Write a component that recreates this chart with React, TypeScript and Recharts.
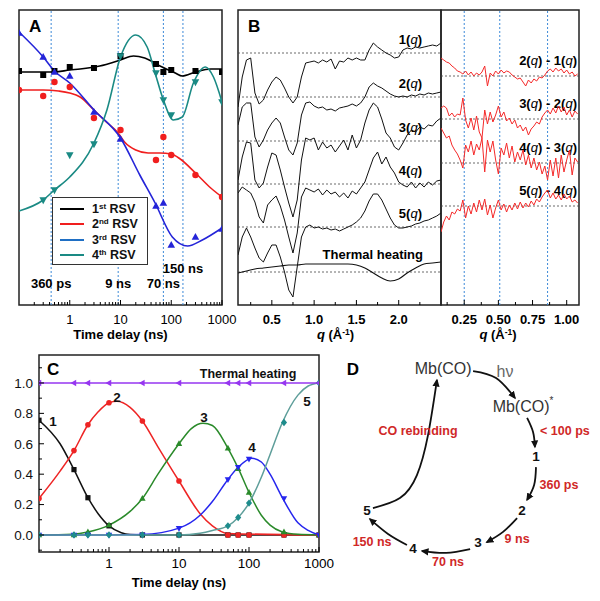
import React from 'react';
import {
  ComposedChart, ScatterChart, Line, Scatter, XAxis, YAxis,
  ReferenceLine, ReferenceArea, Legend,
} from 'recharts';

const FONT = '"Liberation Sans", Arial, Helvetica, sans-serif';

// ---------------- Panel A : right singular vectors vs time delay ----------------
const delaysA = [0.1, 0.3, 0.5, 1, 3, 10, 50, 70, 100, 300, 1000];
const rsv1Marks = [234, 230, 234, 238, 237, 249, 241, 233, 235, 234, 233];
const rsv2Marks = [215, 209, 223, 218, 187, 175, 145, 168, 150, 130, 108];
const rsv3Marks = [272, 248, 233, 229, 193, 166, 99, 102, 60, 68, 76];
const rsv4Marks = [null, 105, 115, 150, 161, 249, 232, 205, 190, 223, 203];

const rsv1FitT = [0.1, 0.5, 1, 1.6, 3.9, 10, 18, 30, 60, 120, 165, 300, 600, 1000];
const rsv1FitV = [233, 233, 235, 236, 239, 245, 249, 247, 239, 232, 229, 233, 236, 236];
const rsv2FitT = [0.1, 0.3, 0.6, 1, 1.6, 3, 5, 9, 12, 20, 35, 60, 100, 150, 300, 600, 1000];
const rsv2FitV = [215, 215, 214, 212, 208, 195, 184, 172, 163, 155, 152, 152, 151, 146, 132, 117, 108];
const rsv3FitT = [0.1, 0.3, 0.5, 1, 3, 10, 24, 48, 105, 210, 410, 1000];
const rsv3FitV = [273, 248, 234, 222, 195, 167, 130, 102, 68, 59, 65, 77];
const rsv4FitT = [0.1, 0.3, 0.5, 1, 3, 5.4, 10, 20, 33.5, 48, 70, 110, 165, 273, 471, 679, 1000];
const rsv4FitV = [94, 105, 115, 128, 162, 195, 248, 270, 258, 232, 205, 185, 188, 222, 238, 228, 203];

const markTimesA = [0.43, 9, 70, 170];
const markLabelsA = ['360 ps', '9 ns', '70 ns', '150 ns'];

const rsvLegend = [
  { num: '1', sup: 'st', color: '#000000' },
  { num: '2', sup: 'nd', color: '#f01e1e' },
  { num: '3', sup: 'rd', color: '#1f6fc4' },
  { num: '4', sup: 'th', color: '#1a8a84' },
];

// ---------------- Panel B : species-associated difference curves ----------------
const qGridB = [0.1, 0.15, 0.2, 0.25, 0.3, 0.35, 0.4, 0.45, 0.5, 0.55, 0.6, 0.65, 0.7, 0.75, 0.8, 0.85, 0.9, 0.95,
  1.0, 1.05, 1.1, 1.15, 1.2, 1.25, 1.3, 1.35, 1.4, 1.45, 1.5, 1.55, 1.6,
  1.65, 1.7, 1.75, 1.8, 1.85, 1.9, 1.95, 2.0, 2.05, 2.1, 2.15, 2.2, 2.25, 2.3, 2.35, 2.4, 2.45, 2.5];
const sig1 = [-54, -24, -7, -5, -40, -51, -47, -37, -29, -24, -27, -35, -44, -50, -44, -24, -10, -9,
  -8, -10, -7, -9, -6, -16, -8, -9, -5, -7, -5, -7, -7,
  3, 10, 6, 3, 0, -2, -5, -4, 3, 5, 4, 6, 5, 6, 7, 8, 7, 10];
const sig2 = [-28, -10, -6, -6, -40, -50, -43, -33, -26, -21, -26, -40, -53, -58, -46, -18, -6, -5,
  -9, -11, -10, -13, -12, -14, -11, -10, -9, -7, -9, -6, 0,
  10, 14, 11, 9, 6, 3, 1, 0, 1, 0, 2, 1, 3, 2, 4, 3, 4, 5];
const sig3 = [-39, -16, -1, -2, -39, -47, -42, -26, -12, -14, -29, -46, -62, -76, -59, -19, 3, 1,
  3, -9, -1, -7, -4, -11, -5, 1, -9, 6, -7, 1, 18,
  31, 38, 34, 22, 8, 3, -6, -9, -2, 6, 11, 9, 14, 12, 16, 15, 20, 23];
const sig4 = [-9, -3, -6, -9, -18, -33, -39, -21, -16, -12, -22, -36, -53, -69, -49, -13, -4, -6,
  -8, -5, -11, -6, -10, -8, -13, -9, -14, -7, -10, -4, 2,
  14, 26, 32, 20, 27, 17, 11, 2, -1, -3, 2, -4, 1, -3, 2, -1, 3, 4];
const sig5 = [-28, -10, -1, -10, -21, -31, -35, -26, -18, -18, -30, -45, -63, -70, -40, -10, 0, 2,
  -1, 0, -2, -1, -3, -2, -4, -2, 0, 2, 5, 9, 16,
  26, 33, 33, 27, 18, 9, 2, -1, -1, 0, 1, 3, 4, 6, 7, 9, 11, 14];
const qThermal = [0.1, 0.2, 0.3, 0.4, 0.5, 0.6, 0.7, 0.8, 0.9, 1.0, 1.1, 1.2, 1.3, 1.4, 1.5, 1.6, 1.7, 1.8, 1.9, 2.0, 2.1, 2.2, 2.3, 2.4, 2.5];
const sigThermal = [-1, 1, 3, 4, 5, 6, 7, 7, 8, 8, 8, 8, 8, 8, 7, 4, -1, -6, -9, -7, -1, 4, 8, 9, 10];
const offsetsB = [252, 208, 164, 121, 78, 33];
const speciesB = ['1', '2', '3', '4', '5'];

const qGridR = [0.08, 0.1, 0.12, 0.14, 0.16, 0.18, 0.2, 0.22, 0.24, 0.26, 0.28, 0.3, 0.32, 0.34, 0.36, 0.38, 0.4,
  0.42, 0.44, 0.46, 0.48, 0.5, 0.52, 0.54, 0.56, 0.58, 0.6, 0.62, 0.64, 0.66, 0.68, 0.7, 0.72, 0.74, 0.76,
  0.78, 0.8, 0.82, 0.84, 0.86, 0.88, 0.9, 0.92, 0.94, 0.96, 0.98, 1.0, 1.02, 1.04, 1.06, 1.08];
const diff21 = [18, 16, 14, 13, 10, 8, 5, 4, 2, 5, 1, 4, 0, 3, 1, 4, 10, -10, 3, 0, 5, 2, 6, 3, 5, 4, 1, -1, -3, -2,
  -6, -10, -4, -7, -3, -5, -1, -2, 1, 5, 7, 4, 8, 5, 7, 3, 6, 2, 4, 0, 2];
const diff32 = [11, 13, 11, 3, 6, 2, 5, 4, 21, -1, -9, 1, -11, 3, -13, -19, 9, -5, 7, -3, 4, 13, 2, 7, -2, 1, -5, -1,
  -9, -6, -12, -8, -16, -10, -7, -3, -5, 2, 6, 9, 5, 11, 6, 13, 7, 12, 4, 9, 2, 8, 5];
const diff43 = [35, 30, 25, 27, 18, 13, 9, 3, -5, 18, 11, 22, 8, 19, 13, 25, -9, 23, 11, 22, 3, -11, 15, 8, 20, 5,
  17, 1, 11, 3, 13, -2, 8, -5, 5, -7, 1, -11, -3, -17, 3, -13, 5, -15, 8, -9, 3, 13, -12, 5, 1];
const diff54 = [-26, -16, -10, -14, -6, -8, -3, -5, 6, -12, 0, -8, 3, -6, 6, -4, 7, -9, 1, -12, -2, 6, -4, 2, -6, 1,
  -4, 3, -3, 4, -2, 3, -1, 5, 1, 7, 4, 9, 13, 16, 8, 13, 7, 11, 6, 12, 7, 10, 4, 6, 3];
const offsetsR = [229, 186, 142, 99];
const diffPairs = [['2', '1'], ['3', '2'], ['4', '3'], ['5', '4']];
const vLinesR = [0.25, 0.51, 0.86];

// ---------------- Panel C : populations ----------------
const delaysC = [0.1, 0.316, 0.5, 1, 3, 10, 50, 70, 100, 316, 1000];
const pop1Marks = [0.755, 0.43, 0.245, 0.06, 0, 0, 0, 0, 0, 0, 0];
const pop2Marks = [0.24, 0.555, 0.725, 0.87, 0.75, 0.355, 0, 0, 0, 0, 0];
const pop3Marks = [0, 0, 0.02, 0.065, 0.24, 0.6, 0.57, 0.435, 0.28, 0.02, 0];
const pop4Marks = [0, 0, 0, 0, 0, 0.045, 0.365, 0.445, 0.5, 0.24, 0];
const pop5Marks = [0, 0, 0, 0, 0, 0, 0.06, 0.115, 0.21, 0.74, 1.0];
const heatMarks = [1, 1, 1, 1, 1, 1, 1, 1, 1, 1, 1];

const pop1FitT = [0.1, 0.2, 0.316, 0.5, 0.7, 1, 1.5, 2, 3, 1000];
const pop1FitV = [0.755, 0.6, 0.43, 0.245, 0.14, 0.06, 0.015, 0.003, 0, 0];
const pop2FitT = [0.1, 0.2, 0.316, 0.5, 0.7, 1, 1.3, 2, 3, 5, 10, 20, 30, 50, 1000];
const pop2FitV = [0.24, 0.42, 0.555, 0.725, 0.81, 0.87, 0.88, 0.84, 0.75, 0.58, 0.355, 0.14, 0.06, 0.01, 0];
const pop3FitT = [0.1, 0.3, 0.5, 1, 2, 3, 5, 10, 15, 22, 30, 50, 70, 100, 150, 200, 300, 500, 1000];
const pop3FitV = [0, 0.005, 0.02, 0.065, 0.155, 0.24, 0.4, 0.6, 0.7, 0.735, 0.72, 0.57, 0.44, 0.28, 0.13, 0.065, 0.02, 0.004, 0];
const pop4FitT = [0.1, 1, 3, 10, 20, 30, 50, 70, 110, 150, 200, 300, 500, 700, 1000];
const pop4FitV = [0, 0, 0.003, 0.045, 0.13, 0.22, 0.365, 0.445, 0.505, 0.48, 0.4, 0.245, 0.08, 0.03, 0];
const pop5FitT = [0.1, 10, 20, 30, 50, 70, 100, 150, 200, 300, 500, 700, 1000];
const pop5FitV = [0, 0, 0.012, 0.03, 0.06, 0.115, 0.21, 0.38, 0.53, 0.74, 0.92, 0.98, 1.0];
const heatFitT = [0.1, 1000];
const heatFitV = [1, 1];

const labelsC = [
  { t: 0.158, v: 0.745, text: '1' },
  { t: 1.3, v: 0.905, text: '2' },
  { t: 22.8, v: 0.77, text: '3' },
  { t: 110, v: 0.578, text: '4' },
  { t: 674, v: 0.875, text: '5' },
  { t: 97, v: 1.06, text: 'Thermal heating' },
];

// ---------------- Panel D : reaction cycle (abstract diagram space 0-100) ----------------
const cycleNodes = [
  { t: 8.5, v: 90.6, text: 'D', kind: 'panel' },
  { t: 41.9, v: 91.0, text: 'Mb(CO)', kind: 'species' },
  { t: 64.8, v: 89.8, text: 'hν', kind: 'light' },
  { t: 71.5, v: 75.8, text: 'Mb(CO)', sup: '*', kind: 'species' },
  { t: 76.3, v: 56.3, text: '1', kind: 'state' },
  { t: 71.1, v: 35.5, text: '2', kind: 'state' },
  { t: 54.8, v: 22.7, text: '3', kind: 'state' },
  { t: 30.7, v: 20.7, text: '4', kind: 'state' },
  { t: 13.7, v: 35.5, text: '5', kind: 'state' },
  { t: 87.0, v: 66.4, text: '< 100 ps', kind: 'rate' },
  { t: 84.8, v: 45.3, text: '360 ps', kind: 'rate' },
  { t: 69.3, v: 24.2, text: '9 ns', kind: 'rate' },
  { t: 43.7, v: 15.2, text: '70 ns', kind: 'rate' },
  { t: 15.6, v: 23.0, text: '150 ns', kind: 'rate' },
  { t: 32.6, v: 66.4, text: 'CO rebinding', kind: 'rate' },
];
const cycleArrows = [
  { t: [53.0, 61.5, 68.5], v: [89.8, 87.1, 79.3] },
  { t: [73.0, 75.2, 75.9], v: [71.5, 66.0, 60.2] },
  { t: [76.3, 75.6, 73.0], v: [52.3, 45.3, 39.5] },
  { t: [69.3, 64.1, 58.1], v: [32.4, 27.0, 23.0] },
  { t: [51.9, 43.0, 34.1], v: [20.3, 18.8, 19.5] },
  { t: [28.5, 21.5, 14.8], v: [21.9, 26.2, 32.0] },
  { t: [15.9, 25.9, 32.2, 36.3, 39.6], v: [36.3, 40.2, 49.2, 64.8, 86.3] },
];

// ---------------- helpers ----------------
const logTicks = [0.2, 0.3, 0.4, 0.5, 0.6, 0.7, 0.8, 0.9, 1, 2, 3, 4, 5, 6, 7, 8, 9, 10, 20, 30, 40, 50, 60, 70, 80, 90,
  100, 200, 300, 400, 500, 600, 700, 800, 900, 1000];
const decades = [1, 10, 100, 1000];
const ticksBL = [0.25, 0.5, 0.75, 1.0, 1.25, 1.5, 1.75, 2.0, 2.25];
const ticksBR = [0.125, 0.25, 0.375, 0.5, 0.625, 0.75, 0.875, 1.0];
const ticksCY = [-0.1, 0, 0.1, 0.2, 0.3, 0.4, 0.5, 0.6, 0.7, 0.8, 0.9, 1.0, 1.1];

type Row = { t: number; v: number };
const pts = (xs: number[], ys: (number | null)[], off = 0): Row[] =>
  xs.map((t, i) => ({ t, v: ys[i] })).filter((p) => p.v !== null && p.v !== undefined)
    .map((p) => ({ t: p.t, v: (p.v as number) + off }));

const isMultiple = (v: number, step: number) => Math.abs(v / step - Math.round(v / step)) < 1e-6;

const xTick = (isMajor: (v: number) => boolean, fmt: (v: number) => string, size: number, bold: boolean, baseDy: number) =>
  (p: any) => {
    const v = p.payload.value;
    const major = isMajor(v);
    return (
      <g>
        <line x1={p.x} x2={p.x} y1={p.y} y2={p.y - (major ? 5 : 3)} stroke="#000" strokeWidth={1} />
        {major && (
          <text x={p.x} y={p.y + baseDy} textAnchor="middle" fontSize={size} fontFamily={FONT}
            fontWeight={bold ? 'bold' : 'normal'} fill="#000">{fmt(v)}</text>
        )}
      </g>
    );
  };

const yTickC = (p: any) => {
  const v = p.payload.value;
  const major = isMultiple(v, 0.2);
  return (
    <g>
      <line x1={p.x} x2={p.x + (major ? 5 : 3)} y1={p.y} y2={p.y} stroke="#000" strokeWidth={1} />
      {major && (
        <text x={p.x - 6} y={p.y + 4.8} textAnchor="end" fontSize={13.5} fontFamily={FONT} fill="#111">{v.toFixed(1)}</text>
      )}
    </g>
  );
};

const mk = (kind: string, r: number, color: string) => (p: any) => {
  const { cx, cy } = p;
  if (cx == null || cy == null) return <g />;
  switch (kind) {
    case 'square':
      return <rect x={cx - r} y={cy - r} width={2 * r} height={2 * r} fill={color} />;
    case 'circle':
      return <circle cx={cx} cy={cy} r={r} fill={color} />;
    case 'up':
      return <polygon points={`${cx},${cy - r * 1.25} ${cx - r * 1.15},${cy + r * 0.8} ${cx + r * 1.15},${cy + r * 0.8}`} fill={color} />;
    case 'down':
      return <polygon points={`${cx},${cy + r * 1.25} ${cx - r * 1.15},${cy - r * 0.8} ${cx + r * 1.15},${cy - r * 0.8}`} fill={color} />;
    case 'left':
      return <polygon points={`${cx - r * 1.25},${cy} ${cx + r * 0.8},${cy - r * 1.15} ${cx + r * 0.8},${cy + r * 1.15}`} fill={color} />;
    case 'diamond':
      return <polygon points={`${cx},${cy - r * 1.3} ${cx + r * 1.1},${cy} ${cx},${cy + r * 1.3} ${cx - r * 1.1},${cy}`} fill={color} />;
    default:
      return <g />;
  }
};

const noShape = () => <g />;

const frameLabel = (letter: string, offset: number) => ({
  value: letter, position: 'insideTopLeft' as const, offset, fontSize: 17, fontWeight: 'bold',
  fontFamily: FONT, fill: '#000',
});

const qAxisLabel = (dx: number) => (props: any) => {
  const vb = props.viewBox || {};
  const x = (vb.x ?? 0) + (vb.width ?? 0) / 2 + dx;
  const y = (vb.y ?? 0) + (vb.height ?? 0) - 6.5;
  return (
    <text x={x} y={y} textAnchor="middle" fontFamily={FONT} fontSize={13} fontWeight="bold" fill="#000">
      <tspan fontStyle="italic">q</tspan>
      <tspan> (Å</tspan>
      <tspan dy={-4} fontSize={8.5}>-1</tspan>
      <tspan dy={4}>)</tspan>
    </text>
  );
};

const curveLabel = (main: React.ReactNode, lift: number, inset: number) => (props: any) => {
  const vb = props.viewBox || {};
  const x = (vb.x ?? 0) + (vb.width ?? 0) - inset;
  const y = (vb.y ?? 0) - lift;
  return (
    <text x={x} y={y} textAnchor="end" fontFamily={FONT} fontSize={13} fontWeight="bold" fill="#000">{main}</text>
  );
};

const qName = (n: string) => (
  <>
    {n}(<tspan fontStyle="italic" fontWeight="normal">q</tspan>)
  </>
);

// ---------------- Panels ----------------
function LegendA() {
  return (
    <div style={{
      boxSizing: 'border-box', width: 96, height: 68, border: '1.5px solid #333', background: '#fff',
      padding: '3px 0 0 7px', fontFamily: FONT, fontSize: 12.5, fontWeight: 'bold', color: '#111',
    }}>
      {rsvLegend.map((r) => (
        <div key={r.num} style={{ display: 'flex', alignItems: 'center', height: 15.5 }}>
          <span style={{ display: 'inline-block', width: 24, height: 0, borderTop: `2px solid ${r.color}`, marginRight: 8 }} />
          <span style={{ whiteSpace: 'nowrap' }}>
            {r.num}
            <span style={{ fontSize: 8, position: 'relative', top: -4 }}>{r.sup}</span> RSV
          </span>
        </div>
      ))}
    </div>
  );
}

function PanelA() {
  const offsets = [17.5, 17.5, 17.5, 32.5];
  return (
    <ComposedChart width={240} height={345} margin={{ top: 10, right: 18, bottom: 0, left: 19 }}>
      <XAxis dataKey="t" type="number" scale="log" domain={[0.1, 1000]} allowDataOverflow ticks={logTicks} interval={0}
        tick={xTick((v) => decades.includes(v), (v) => String(v), 13, false, 18.7)}
        tickLine={false} axisLine={false} tickSize={0} tickMargin={0} height={40}
        label={{ value: 'Time delay (ns)', position: 'insideBottom', offset: 6, fontSize: 13, fontWeight: 'bold', fontFamily: FONT, fill: '#000' }} />
      <YAxis dataKey="v" type="number" domain={[0, 295]} hide allowDataOverflow />
      {markTimesA.map((t, i) => (
        <ReferenceLine key={t} x={t} stroke="#3d8ad8" strokeDasharray="2 2" strokeWidth={1}
          label={{ value: markLabelsA[i], position: 'insideBottom', offset: offsets[i], fontSize: 13, fontWeight: 'bold', fontFamily: FONT, fill: '#000' }} />
      ))}
      <Line data={pts(rsv1FitT, rsv1FitV)} dataKey="v" type="monotone" stroke="#000" strokeWidth={1.6} dot={false} isAnimationActive={false} />
      <Line data={pts(rsv2FitT, rsv2FitV)} dataKey="v" type="monotone" stroke="#f01e1e" strokeWidth={1.6} dot={false} isAnimationActive={false} />
      <Line data={pts(rsv3FitT, rsv3FitV)} dataKey="v" type="monotone" stroke="#2424d8" strokeWidth={1.6} dot={false} isAnimationActive={false} />
      <Line data={pts(rsv4FitT, rsv4FitV)} dataKey="v" type="monotone" stroke="#1a8a84" strokeWidth={1.6} dot={false} isAnimationActive={false} />
      <Scatter data={pts(delaysA, rsv1Marks)} dataKey="v" shape={mk('square', 3, '#000')} isAnimationActive={false} />
      <Scatter data={pts(delaysA, rsv2Marks)} dataKey="v" shape={mk('circle', 3.2, '#f01e1e')} isAnimationActive={false} />
      <Scatter data={pts(delaysA, rsv3Marks)} dataKey="v" shape={mk('up', 3.3, '#2424d8')} isAnimationActive={false} />
      <Scatter data={pts(delaysA, rsv4Marks)} dataKey="v" shape={mk('down', 3.3, '#1a8a84')} isAnimationActive={false} />
      <ReferenceArea x1={0.1} x2={1000} y1={0} y2={295} fill="none" stroke="#222" strokeWidth={1.5} ifOverflow="visible"
        label={frameLabel('A', 10)} />
      <Legend content={() => <LegendA />} layout="vertical" align="center" verticalAlign="middle"
        wrapperStyle={{ left: 52, top: 197, width: 96, height: 68 }} />
    </ComposedChart>
  );
}

function PanelBLeft() {
  const sigs = [sig1, sig2, sig3, sig4, sig5];
  return (
    <ComposedChart width={220} height={345} margin={{ top: 10, right: 9, bottom: 0, left: 8 }}>
      <XAxis dataKey="t" type="number" domain={[0.1, 2.5]} allowDataOverflow ticks={ticksBL} interval={0}
        tick={xTick((v) => isMultiple(v, 0.5), (v) => v.toFixed(1), 13, true, 18.7)}
        tickLine={false} axisLine={false} tickSize={0} tickMargin={0} height={40} label={qAxisLabel(-4)} />
      <YAxis dataKey="v" type="number" domain={[0, 295]} hide allowDataOverflow />
      {offsetsB.map((off, i) => (
        <ReferenceLine key={off} y={off} stroke="#444" strokeDasharray="2 2" strokeWidth={0.8}
          label={i < 5 ? curveLabel(qName(speciesB[i]), 9, 19) : curveLabel('Thermal heating', 13.5, 18)} />
      ))}
      {sigs.map((s, i) => (
        <Line key={i} data={pts(qGridB, s, offsetsB[i])} dataKey="v" type="linear" stroke="#111" strokeWidth={1}
          dot={false} isAnimationActive={false} />
      ))}
      <Line data={pts(qThermal, sigThermal, offsetsB[5])} dataKey="v" type="monotone" stroke="#111" strokeWidth={1.1}
        dot={false} isAnimationActive={false} />
      <ReferenceArea x1={0.1} x2={2.5} y1={0} y2={295} fill="none" stroke="#222" strokeWidth={1.5} ifOverflow="visible"
        label={frameLabel('B', 10)} />
    </ComposedChart>
  );
}

function PanelBRight() {
  const diffs = [diff21, diff32, diff43, diff54];
  return (
    <ComposedChart width={170} height={345} margin={{ top: 10, right: 21, bottom: 0, left: 11 }}>
      <XAxis dataKey="t" type="number" domain={[0.08, 1.09]} allowDataOverflow ticks={ticksBR} interval={0}
        tick={xTick((v) => isMultiple(v, 0.25), (v) => v.toFixed(2), 13, true, 18.7)}
        tickLine={false} axisLine={false} tickSize={0} tickMargin={0} height={40} label={qAxisLabel(-12)} />
      <YAxis dataKey="v" type="number" domain={[0, 295]} hide allowDataOverflow />
      {vLinesR.map((q) => (
        <ReferenceLine key={q} x={q} stroke="#3d8ad8" strokeDasharray="2 2" strokeWidth={1} />
      ))}
      {offsetsR.map((off, i) => (
        <ReferenceLine key={off} y={off} stroke="#444" strokeDasharray="2 2" strokeWidth={0.8}
          label={curveLabel(<>{qName(diffPairs[i][0])} - {qName(diffPairs[i][1])}</>, 11, 2)} />
      ))}
      {diffs.map((d, i) => (
        <Line key={i} data={pts(qGridR, d, offsetsR[i])} dataKey="v" type="linear" stroke="#f52a2a" strokeWidth={1}
          dot={false} isAnimationActive={false} />
      ))}
      <ReferenceArea x1={0.08} x2={1.09} y1={0} y2={295} fill="none" stroke="#222" strokeWidth={1.5} ifOverflow="visible" />
    </ComposedChart>
  );
}

const colC = { p1: '#111111', p2: '#ee2424', p3: '#2a8a2a', p4: '#2626ee', p5line: '#5e9e9a', p5: '#1e8c8c', heat: '#9636f0' };

function PanelC() {
  const textShape = (p: any) => (
    <text x={p.cx} y={p.cy} textAnchor="middle" dominantBaseline="central" fontFamily={FONT}
      fontSize={p.payload.text.length > 2 ? 12.5 : 13.5} fontWeight="bold" fill="#111">{p.payload.text}</text>
  );
  return (
    <ComposedChart width={345} height={260} margin={{ top: 15, right: 26, bottom: 8, left: 0 }}>
      <XAxis dataKey="t" type="number" scale="log" domain={[0.1, 1000]} allowDataOverflow ticks={logTicks} interval={0}
        tick={xTick((v) => decades.includes(v), (v) => String(v), 13.5, false, 15.8)}
        tickLine={false} axisLine={false} tickSize={0} tickMargin={0} height={40}
        label={{ value: 'Time delay (ns)', position: 'insideBottom', offset: 5.5, fontSize: 13, fontWeight: 'bold', fontFamily: FONT, fill: '#000' }} />
      <YAxis dataKey="v" type="number" domain={[-0.112, 1.184]} allowDataOverflow ticks={ticksCY} interval={0}
        tick={yTickC} tickLine={false} axisLine={false} tickSize={0} tickMargin={0} width={39} />
      <Line data={pts(pop1FitT, pop1FitV)} dataKey="v" type="monotone" stroke={colC.p1} strokeWidth={1.5} dot={false} isAnimationActive={false} />
      <Line data={pts(pop2FitT, pop2FitV)} dataKey="v" type="monotone" stroke={colC.p2} strokeWidth={1.5} dot={false} isAnimationActive={false} />
      <Line data={pts(pop3FitT, pop3FitV)} dataKey="v" type="monotone" stroke={colC.p3} strokeWidth={1.5} dot={false} isAnimationActive={false} />
      <Line data={pts(pop4FitT, pop4FitV)} dataKey="v" type="monotone" stroke={colC.p4} strokeWidth={1.5} dot={false} isAnimationActive={false} />
      <Line data={pts(pop5FitT, pop5FitV)} dataKey="v" type="monotone" stroke={colC.p5line} strokeWidth={1.5} dot={false} isAnimationActive={false} />
      <Line data={pts(heatFitT, heatFitV)} dataKey="v" type="linear" stroke={colC.heat} strokeWidth={1.5} dot={false} isAnimationActive={false} />
      <Scatter data={pts(delaysC, pop1Marks)} dataKey="v" shape={mk('square', 2.6, colC.p1)} isAnimationActive={false} />
      <Scatter data={pts(delaysC, pop2Marks)} dataKey="v" shape={mk('circle', 2.8, colC.p2)} isAnimationActive={false} />
      <Scatter data={pts(delaysC, pop3Marks)} dataKey="v" shape={mk('up', 2.8, colC.p3)} isAnimationActive={false} />
      <Scatter data={pts(delaysC, pop4Marks)} dataKey="v" shape={mk('down', 2.8, colC.p4)} isAnimationActive={false} />
      <Scatter data={pts(delaysC, pop5Marks)} dataKey="v" shape={mk('diamond', 2.8, colC.p5)} isAnimationActive={false} />
      <Scatter data={pts(delaysC, heatMarks)} dataKey="v" shape={mk('left', 2.8, colC.heat)} isAnimationActive={false} />
      <Scatter data={labelsC} dataKey="v" shape={textShape} isAnimationActive={false} />
      <ReferenceArea x1={0.1} x2={1000} y1={-0.112} y2={1.184} fill="none" stroke="#222" strokeWidth={1.5} ifOverflow="visible"
        label={frameLabel('C', 8)} />
    </ComposedChart>
  );
}

const nodeStyles: Record<string, { size: number; weight: string; color: string }> = {
  panel: { size: 17, weight: 'bold', color: '#000' },
  species: { size: 16, weight: 'normal', color: '#333' },
  light: { size: 16, weight: 'normal', color: '#666' },
  state: { size: 13.5, weight: 'bold', color: '#111' },
  rate: { size: 12.5, weight: 'bold', color: '#d02828' },
};

function PanelD() {
  const nodeShape = (p: any) => {
    const d = p.payload;
    const st = nodeStyles[d.kind];
    return (
      <text x={p.cx} y={p.cy} textAnchor="middle" dominantBaseline="central" fontFamily={FONT}
        fontSize={st.size} fontWeight={st.weight} fill={st.color}>
        {d.text}
        {d.sup ? <tspan dy={-7} fontSize={10}>{d.sup}</tspan> : null}
      </text>
    );
  };
  return (
    <ScatterChart width={270} height={256} margin={{ top: 0, right: 0, bottom: 0, left: 0 }}>
      <XAxis dataKey="t" type="number" domain={[0, 100]} hide />
      <YAxis dataKey="v" type="number" domain={[0, 100]} hide />
      {cycleArrows.map((a, i) => (
        <Scatter key={i} data={pts(a.t, a.v)} dataKey="v" shape={noShape} lineJointType="natural"
          line={{ stroke: '#111', strokeWidth: 1.8, markerEnd: 'url(#arrowD)' }} isAnimationActive={false} />
      ))}
      <Scatter data={cycleNodes} dataKey="v" shape={nodeShape} isAnimationActive={false} />
    </ScatterChart>
  );
}

export default function App() {
  return (
    <div style={{ position: 'absolute', left: 0, top: 0, width: 600, height: 601, background: '#fff', overflow: 'hidden', fontFamily: FONT }}>
      <svg width={0} height={0} style={{ position: 'absolute' }}>
        <defs>
          <marker id="arrowD" viewBox="0 0 10 10" refX="8" refY="5" markerWidth="8" markerHeight="8"
            markerUnits="userSpaceOnUse" orient="auto">
            <path d="M0,0.5 L10,5 L0,9.5 z" fill="#111" />
          </marker>
        </defs>
      </svg>
      <div style={{ position: 'absolute', left: 0, top: 0 }}><PanelA /></div>
      <div style={{ position: 'absolute', left: 230, top: 0 }}><PanelBLeft /></div>
      <div style={{ position: 'absolute', left: 430, top: 0 }}><PanelBRight /></div>
      <div style={{ position: 'absolute', left: 0, top: 340 }}><PanelC /></div>
      <div style={{ position: 'absolute', left: 330, top: 345 }}><PanelD /></div>
    </div>
  );
}
